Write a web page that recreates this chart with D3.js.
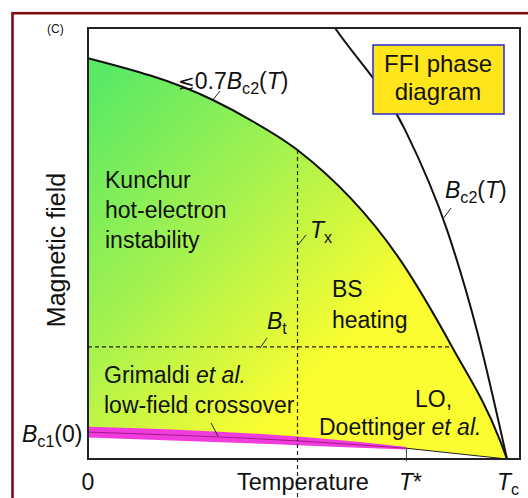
<!DOCTYPE html>
<html>
<head>
<meta charset="utf-8">
<script src="https://cdn.jsdelivr.net/npm/d3@7"></script>
<style>
body { margin: 0; background: #fff; }
svg { display: block; font-family: "Liberation Sans", Arial, sans-serif; }
</style>
</head>
<body>
<div id="chart"></div>
<script>
// temperature in units of Tc, field in units of the frame height
const upperT = [0, 0.298, 0.387, 0.5, 0.745, 0.869, 0.983, 1];
const upperB = [0.930, 0.833, 0.787, 0.717, 0.462, 0.26, 0.044, 0];
const bc2T = [0.533, 0.5895, 0.757, 0.857, 0.928, 1];
const bc2B = [1.08, 1.0, 0.763, 0.531, 0.299, 0];
const bc1T = [0, 0.5, 0.76];
const bc1Hi = [0.075, 0.052, 0.028];
const bc1Lo = [0.05, 0.032, 0.022];
const tailT = [0.76, 1];
const tailB = [0.025, 0];
const Tx = 0.5, Bt = 0.26, Tstar = 0.76;

const W = 528, H = 498;
const svg = d3.select("#chart").append("svg").attr("width", W).attr("height", H);
const x = d3.scaleLinear().domain([0, 1.031]).range([88, 520]);
const y = d3.scaleLinear().domain([0, 1]).range([459, 28]);

function interp(ts, bs, t) {
    for (let i = 0; i < ts.length - 1; i++) {
        if (t >= ts[i] && t <= ts[i + 1]) return bs[i] + (bs[i + 1] - bs[i]) * (t - ts[i]) / (ts[i + 1] - ts[i]);
    }
    return bs[bs.length - 1];
}
function interpInv(ts, bs, b) {
    for (let i = 0; i < ts.length - 1; i++) {
        if (b <= bs[i] && b >= bs[i + 1]) return ts[i] + (ts[i + 1] - ts[i]) * (b - bs[i]) / (bs[i + 1] - bs[i]);
    }
    return ts[ts.length - 1];
}

// outer red border
svg.append("rect")
    .attr("x", 12.5).attr("y", 13.2).attr("width", W).attr("height", H)
    .attr("fill", "none").attr("stroke", "#7d0c10").attr("stroke-width", 2.6);

const defs = svg.append("defs");
const grad = defs.append("linearGradient").attr("id", "fillGrad")
    .attr("gradientUnits", "userSpaceOnUse")
    .attr("x1", 100).attr("y1", 80).attr("x2", 360).attr("y2", 330);
grad.append("stop").attr("offset", 0).attr("stop-color", "#5ae965");
grad.append("stop").attr("offset", 0.5).attr("stop-color", "#a6f24e");
grad.append("stop").attr("offset", 1).attr("stop-color", "#fbfd30");

defs.append("clipPath").attr("id", "frameClip").append("rect")
    .attr("x", x(0)).attr("y", y(1)).attr("width", x(1.031) - x(0)).attr("height", y(0) - y(1));

const lineGen = d3.line().x(d => x(d[0])).y(d => y(d[1])).curve(d3.curveMonotoneX);
const upper = upperT.map((t, i) => [t, upperB[i]]);
const bc1Mid = bc1T.map((t, i) => [t, (bc1Hi[i] + bc1Lo[i]) / 2]);
const tail = tailT.map((t, i) => [t, tailB[i]]);

// filled region
const lowerPts = [...tail.slice().reverse(), ...bc1Mid.slice().reverse()];
svg.append("path")
    .attr("d", lineGen(upper) + lowerPts.map(p => `L${x(p[0])},${y(p[1])}`).join("") + "Z")
    .attr("fill", "url(#fillGrad)");

// Bc1 band
svg.append("path")
    .attr("d", d3.area().x((d, i) => x(bc1T[i])).y0((d, i) => y(bc1Lo[i])).y1((d, i) => y(bc1Hi[i]))
        .curve(d3.curveMonotoneX)(bc1T))
    .attr("fill", "#f03cdc");
svg.append("path")
    .attr("d", lineGen(bc1Mid))
    .attr("fill", "none").attr("stroke", "#a3188e").attr("stroke-width", 1);

// tail T* -> Tc
svg.append("path").attr("d", d3.line().x(d => x(d[0])).y(d => y(d[1]))(tail))
    .attr("fill", "none").attr("stroke", "#222").attr("stroke-width", 1.2);

// upper boundary and Bc2
svg.append("path").attr("d", lineGen(upper))
    .attr("fill", "none").attr("stroke", "#111").attr("stroke-width", 2);
svg.append("path").attr("d", lineGen(bc2T.map((t, i) => [t, bc2B[i]])))
    .attr("clip-path", "url(#frameClip)")
    .attr("fill", "none").attr("stroke", "#111").attr("stroke-width", 2);

// dashed Tx and Bt lines
svg.append("line")
    .attr("x1", x(Tx)).attr("x2", x(Tx))
    .attr("y1", y(interp(upperT, upperB, Tx))).attr("y2", H)
    .attr("stroke", "#222").attr("stroke-width", 1.2).attr("stroke-dasharray", "4,3");
svg.append("line")
    .attr("x1", x(0)).attr("x2", x(interpInv(upperT, upperB, Bt)))
    .attr("y1", y(Bt)).attr("y2", y(Bt))
    .attr("stroke", "#222").attr("stroke-width", 1.2).attr("stroke-dasharray", "4,3");

// T* tick
svg.append("line")
    .attr("x1", x(Tstar)).attr("x2", x(Tstar))
    .attr("y1", y(interp(tailT, tailB, Tstar))).attr("y2", y(0) + 2)
    .attr("stroke", "#444").attr("stroke-width", 1);

// frame
svg.append("rect")
    .attr("x", x(0)).attr("y", y(1)).attr("width", x(1.031) - x(0)).attr("height", y(0) - y(1))
    .attr("fill", "none").attr("stroke", "#222").attr("stroke-width", 2);

// legend box
svg.append("rect").attr("x", 373).attr("y", 45).attr("width", 131).attr("height", 69)
    .attr("fill", "#ffe51c").attr("stroke", "#2a2ad0").attr("stroke-width", 1.5);

// text helper
function rich(px, py, parts, size, anchor) {
    const t = svg.append("text").attr("x", px).attr("y", py)
        .attr("font-size", size).attr("fill", "#111")
        .attr("text-anchor", anchor || "start");
    let shift = 0;
    parts.forEach(p => {
        const s = t.append("tspan").text(p.t);
        if (p.i) s.attr("font-style", "italic");
        if (p.f) s.attr("font-family", p.f);
        if (p.fz) s.attr("font-size", p.fz);
        if (p.dx) s.attr("dx", p.dx);
        const want = p.sub ? 5 : 0;
        if (want !== shift) { s.attr("dy", want - shift); shift = want; }
        if (p.sub) s.attr("font-size", size * 0.7);
    });
    return t;
}

const fs = 23;
rich(47, 33, [{ t: "(C)" }], 12);
svg.append("text").attr("transform", "translate(65,250) rotate(-90)")
    .attr("text-anchor", "middle").attr("font-size", 25).attr("fill", "#111")
    .text("Magnetic field");
rich(237, 490, [{ t: "Temperature" }], 23.5);

// temperature tick labels
rich(x(0), 490, [{ t: "0" }], fs, "middle");
rich(399, 490, [{ t: "T", i: true }, { t: "*" }], fs);
rich(497, 490, [{ t: "T", i: true }, { t: "c", sub: true }], fs);
rich(22, 442, [{ t: "B", i: true }, { t: "c1", sub: true }, { t: "(0)" }], fs);

rich(178, 89, [{ t: "\u2272", f: "DejaVu Sans", fz: 20 }, { t: "0.7" }, { t: "B", i: true }, { t: "c2", sub: true }, { t: "(" }, { t: "T", i: true }, { t: ")" }], fs);
rich(445, 198, [{ t: "B", i: true }, { t: "c2", sub: true }, { t: "(" }, { t: "T", i: true }, { t: ")" }], fs);
rich(438, 72, [{ t: "FFI phase" }], 24, "middle");
rich(438, 100, [{ t: "diagram" }], 24, "middle");

rich(105, 188, [{ t: "Kunchur" }], fs);
rich(105, 218, [{ t: "hot-electron" }], fs);
rich(105, 248, [{ t: "instability" }], fs);
rich(310, 238, [{ t: "T", i: true }, { t: "x", sub: true }], fs);
rich(332, 297, [{ t: "BS" }], fs);
rich(332, 328, [{ t: "heating" }], fs);
rich(267, 329, [{ t: "B", i: true }, { t: "t", sub: true }], fs);
rich(104, 383, [{ t: "Grimaldi " }, { t: "et al.", i: true }], fs);
rich(104, 413, [{ t: "low-field crossover" }], fs);
rich(415, 407, [{ t: "LO," }], fs);
rich(319, 435, [{ t: "Doettinger " }, { t: "et al.", i: true }], fs);

// leader lines
const leaders = [[212, 101, 220, 91], [443, 219, 451, 208], [298, 245, 306, 235], [260, 348, 267, 338], [211, 423, 218, 436]];
svg.selectAll(".leader").data(leaders).enter().append("line")
    .attr("class", "leader")
    .attr("x1", d => d[0]).attr("y1", d => d[1]).attr("x2", d => d[2]).attr("y2", d => d[3])
    .attr("stroke", "#222").attr("stroke-width", 1);
</script>
</body>
</html>
